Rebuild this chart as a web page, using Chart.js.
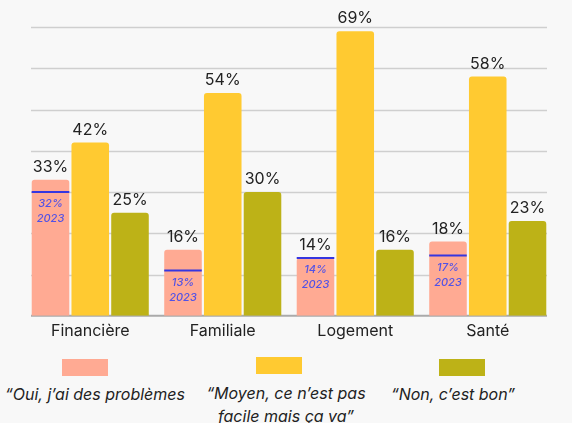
<!DOCTYPE html>
<html>
<head>
<meta charset="utf-8">
<script src="https://cdn.jsdelivr.net/npm/chart.js@4"></script>
<style>
  html, body { margin: 0; padding: 0; background: #f8f8f8; }
  #wrap { position: relative; width: 572px; height: 423px; font-family: Inter, sans-serif; }
  #box { position: absolute; left: 0; top: 0; width: 572px; height: 347px; }
  .leg { position: absolute; text-align: center; font-style: italic; font-size: 16px; color: #222; line-height: 23px; }
  .sw { position: absolute; width: 46px; height: 17px; }
</style>
</head>
<body>
<div id="wrap">
  <div id="box"><canvas id="chart"></canvas></div>
  <div class="sw" id="sw0" style="left:62px; top:359px;"></div>
  <div class="leg" id="lg0" style="left:0px; width:190px; top:383px;"></div>
  <div class="sw" id="sw1" style="left:256px; top:357px;"></div>
  <div class="leg" id="lg1" style="left:196px; width:180px; top:382px;"></div>
  <div class="sw" id="sw2" style="left:439px; top:359px;"></div>
  <div class="leg" id="lg2" style="left:381px; width:144px; top:383px;"></div>
</div>
<script>
const categories = ['Financière', 'Familiale', 'Logement', 'Santé'];
const seriesNames = ['“Oui, j’ai des problèmes', '“Moyen, ce n’est pas<br>facile mais ça va”', '“Non, c’est bon”'];
const oui = [33, 16, 14, 18];
const moyen = [42, 54, 69, 58];
const non = [25, 30, 16, 23];
const oui2023 = [32, 13, 14, 17];
// hauteur du repère 2023 telle que placée sur l'image
const repere2023 = [30, 11, 14, 14.6];
const colors = ['#ffaa93', '#ffca31', '#bdb217'];

seriesNames.forEach((n, i) => {
    document.getElementById('lg' + i).innerHTML = n;
    document.getElementById('sw' + i).style.background = colors[i];
});

const gridPlugin = {
    id: 'grid',
    beforeDatasetsDraw(chart) {
        const ctx = chart.ctx;
        const y = chart.scales.y;
        ctx.save();
        for (let v = 10; v <= 70; v += 10) {
            const py = Math.round(y.getPixelForValue(v)) + 0.5;
            ctx.strokeStyle = '#cfcfcf';
            ctx.lineWidth = 1.3;
            ctx.beginPath();
            ctx.moveTo(31, py);
            ctx.lineTo(547, py);
            ctx.stroke();
        }
        const py0 = y.getPixelForValue(0);
        ctx.strokeStyle = '#aaaaaa';
        ctx.lineWidth = 2;
        ctx.beginPath();
        ctx.moveTo(31, py0);
        ctx.lineTo(547, py0);
        ctx.stroke();
        ctx.restore();
    }
};

const labelPlugin = {
    id: 'labels',
    afterDatasetsDraw(chart) {
        const ctx = chart.ctx;
        ctx.save();
        ctx.font = '16px Inter, sans-serif';
        ctx.fillStyle = '#222';
        ctx.textAlign = 'center';
        ctx.textBaseline = 'alphabetic';
        chart.data.datasets.forEach((ds, di) => {
            chart.getDatasetMeta(di).data.forEach((bar, i) => {
                ctx.fillText(ds.data[i] + '%', bar.x, bar.y - 8);
            });
        });
        // repères 2023
        const meta = chart.getDatasetMeta(0);
        const y = chart.scales.y;
        meta.data.forEach((bar, i) => {
            const py = y.getPixelForValue(repere2023[i]);
            ctx.strokeStyle = '#3636e0';
            ctx.lineWidth = 2;
            ctx.beginPath();
            ctx.moveTo(bar.x - bar.width / 2, py);
            ctx.lineTo(bar.x + bar.width / 2, py);
            ctx.stroke();
            ctx.fillStyle = '#5252e6';
            ctx.font = 'italic 500 11px Inter, sans-serif';
            ctx.textBaseline = 'middle';
            ctx.fillText(oui2023[i] + '%', bar.x, py + 12);
            ctx.fillText('2023', bar.x, py + 27);
        });
        ctx.restore();
    }
};

new Chart(document.getElementById('chart'), {
    type: 'bar',
    data: {
        labels: categories,
        datasets: [
            { data: oui, backgroundColor: colors[0] },
            { data: moyen, backgroundColor: colors[1] },
            { data: non, backgroundColor: colors[2] }
        ]
    },
    options: {
        responsive: true,
        maintainAspectRatio: false,
        animation: false,
        events: [],
        datasets: {
            bar: {
                categoryPercentage: 0.9,
                barPercentage: 0.945,
                borderRadius: { topLeft: 3, topRight: 3 },
                borderSkipped: 'bottom'
            }
        },
        layout: { padding: { top: 27, left: 24, right: 18, bottom: 0 } },
        plugins: { legend: { display: false }, tooltip: { enabled: false } },
        scales: {
            x: {
                grid: { display: false, drawTicks: false },
                border: { display: false },
                ticks: { color: '#222', font: { family: 'Inter', size: 16 }, padding: 6 }
            },
            y: {
                display: false,
                min: 0,
                max: 70
            }
        }
    },
    plugins: [gridPlugin, labelPlugin]
});
</script>
</body>
</html>
